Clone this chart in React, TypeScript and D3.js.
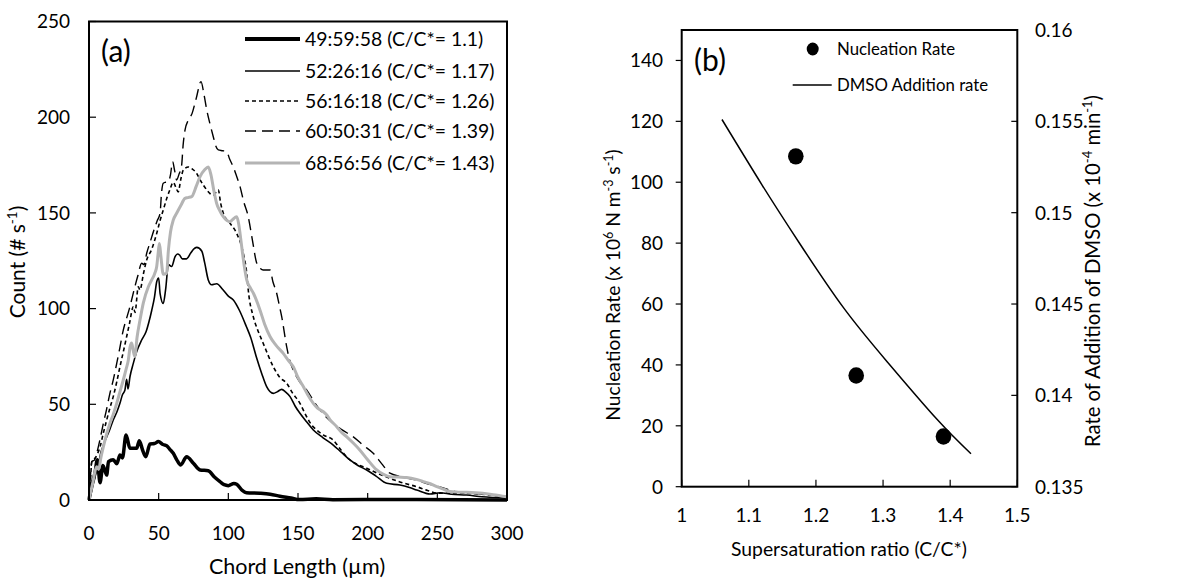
import React from "react";
import * as d3 from "d3";

// ---------- Panel (a): chord length distributions ----------
const xTicksA = [0, 50, 100, 150, 200, 250, 300];
const yTicksA = [0, 50, 100, 150, 200, 250];

const seriesNames = [
  "49:59:58 (C/C*= 1.1)",
  "52:26:16 (C/C*= 1.17)",
  "56:16:18 (C/C*= 1.26)",
  "60:50:31 (C/C*= 1.39)",
  "68:56:56 (C/C*= 1.43)",
];

const s1: [number, number][] = [
  [0,0],[2,8],[4.3,14],[6,21],[7.9,9],[10,18],[12.7,13],[14,20],[17.4,21],[20,19],[22.2,23.5],[24,22],[26.6,34],[29.4,27],[32,27],[34.2,27],[36.1,31],[38.5,26],[40.7,22.6],[43.8,29.3],[47,29.5],[49.8,30.5],[53,29],[55.7,28.4],[58,26.5],[60.5,24.4],[63,21],[65.8,18.3],[70.1,22.6],[74.9,19.2],[79.7,15.7],[85.6,15.3],[90,12],[94,9.6],[97,8],[100,7.5],[104,8.6],[106,8.2],[110,5],[113,3.8],[122.7,3.5],[130,3],[137,2],[145,1],[151,0.2],[163,0.6],[175,0.1],[220,0.3],[300,0],
];
const s2: [number, number][] = [
  [0,0],[1.4,3],[3,8],[4.3,12],[5.5,18],[6.5,14],[7.9,22.6],[10,28],[12.7,33],[15,37],[17.4,41.8],[20,46],[22.2,50.5],[24,55],[25.8,57.5],[27,63],[28,58],[29.4,64.4],[31.8,71.4],[34,77],[37.8,83.6],[41,88],[43,93],[45,99],[47,106],[48.6,114],[50,116],[51,108],[53.3,102.7],[55,110],[57,123],[59.3,122],[61.7,127],[63.5,128.5],[65,128],[67,126],[70,126],[73,129],[75,131],[77.3,132],[81,130],[83,124],[85.6,115],[88,112.5],[91.6,113],[96,110],[100,106.5],[103.6,104.5],[108,99],[113,90.5],[116,85],[120,75],[124,66],[127.5,59.2],[132.3,55.7],[135,56.5],[138.3,57.8],[141,56.5],[144.3,54],[148,49],[151.4,45.3],[156,41],[161,36.6],[168,32.5],[175.3,28.7],[181,25],[187.3,20.9],[193,18],[199.3,15.7],[206,12.5],[213.7,8.7],[223.2,7.8],[230,6.5],[235.2,5.2],[244.7,3.1],[252,3.8],[260,3],[271,2.6],[282,1.7],[300,1],
];
const s3: [number, number][] = [
  [0,0],[1,10],[2,20],[3,21],[4.5,22],[6,24],[8,28],[10.3,35],[12.7,41.8],[15,48],[17.4,54],[20,62],[22.2,69.6],[24.5,77],[27,85.3],[29,92],[31.8,101],[33,98],[35.4,111.4],[36.6,109.7],[39,118],[41.4,125.4],[45,131],[48.6,139.3],[51,146],[53.3,151.5],[56,158],[58,162],[60.5,166],[62.5,163],[64,161],[66,168],[67.7,172.4],[71.3,174],[74,173],[77.3,170.6],[80,167],[84.5,162],[87,160],[89.2,159.3],[92.8,162],[94.5,155],[96.4,149.8],[101.2,144.6],[106,139.3],[110.7,129],[113.2,118.5],[114.3,109.7],[117.9,95.8],[121,89],[125,81.9],[132.3,69.6],[137,64],[141.9,61],[146,56],[151.4,50.5],[156.2,43.5],[160,39],[163.4,36.6],[168,34],[175.3,31.3],[181,26],[187.3,20.9],[193,18.5],[199.3,16.6],[207,14],[216,11.3],[225,9],[235,7],[243,5],[251,3.5],[260,3.5],[271,3.5],[285,2.8],[300,1.7],
];
const s4: [number, number][] = [
  [0,0],[1,12],[2,20],[4,21],[5.5,24.4],[8,32],[10.3,40],[12.5,47],[15,55.7],[17.5,63],[19.9,71.4],[22,79],[24.6,88.8],[27,95],[29,100],[32.9,111.4],[35,117],[37.8,123.7],[39.5,123],[41.4,128.9],[44,135],[47.4,142.8],[49,146],[51,149.8],[52,160],[53.3,165.5],[55,166],[57,166.3],[58.5,170],[60,176.7],[61.5,172],[62.9,167.2],[64.5,170],[66.5,175],[67.5,185],[68.9,193.3],[71.3,198.5],[74,202],[77,210],[80.4,218.6],[82.5,212],[84.5,203.8],[87,196],[89.2,189.8],[91,185],[92.8,182.9],[96,182.5],[98.8,182],[101,178],[103.6,174],[106,169],[108.4,163.7],[111,156],[114.3,148],[117,137],[120.4,123.7],[123,121],[125,120.2],[129.9,120.2],[132,114],[134.7,108],[136.5,102],[138.3,95.8],[141.9,80],[144,73],[146.6,68],[151,62],[156.2,57.5],[161,52],[165.8,47],[170,43.5],[175.3,40],[182,36.5],[189.7,33],[197,28.5],[204,24.4],[210,19],[216,14],[225,12],[235,10.4],[243,8.5],[251,7],[263,4.4],[275,3.5],[290,2.5],[300,1.7],
];
const s5: [number, number][] = [
  [0,0],[1.5,5],[3,10],[4,14],[5.5,17.4],[7,16],[8.5,22],[10.3,27.8],[12.5,34],[15,40],[17.5,45],[19.9,50.5],[22,56],[24.6,62.7],[26.5,68],[28.2,73],[29.5,80],[30.6,82],[31.5,79],[32.9,75],[34.5,85],[36.6,94],[39,103],[42.6,111.4],[45,115],[47,118],[48.6,122],[49.5,128],[50.5,134],[51.5,128],[53.3,118],[55.7,118.4],[57,130.6],[58.5,140],[60.5,146.3],[62.9,149.8],[66,154],[68.9,157.6],[71,158],[73.7,158.5],[77,164],[79.7,169],[83,172.5],[85.6,174],[87.5,170],[89.5,162],[91.6,155],[94,151],[96.4,148],[99,146],[101.2,145.4],[103,146.5],[106,148],[107.5,144],[108.4,139.3],[110,130],[111.5,122],[113.2,115],[116,110.5],[118,108],[122.7,99.3],[126,92],[130,85.3],[134,81],[139.4,76.6],[143,73],[146.6,69.6],[150,64],[153.9,59.2],[157,55],[161,50.5],[164,48],[168.2,46.1],[170.5,44.5],[172.9,42],[177.8,38.3],[181,35.5],[185,33],[190,29.5],[194.5,26],[200,21],[206.5,15.7],[211,13.5],[216,12.2],[222,12],[228,11.8],[235,10.8],[240,9.6],[245,8.5],[249.6,7],[255,5.5],[259,4.4],[265,4.1],[271,4],[282.5,3.5],[290,2.8],[300,1.7],
];

// ---------- Panel (b): nucleation rate and DMSO addition rate ----------
const xTicksB = [1, 1.1, 1.2, 1.3, 1.4, 1.5];
const yTicksB = [0, 20, 40, 60, 80, 100, 120, 140];
const y2TicksB = [0.135, 0.14, 0.145, 0.15, 0.155, 0.16];
const supersat = [1.17, 1.26, 1.39];
const nucleationRate = [108.5, 36.5, 16.5];
const dmsoX = [1.06, 1.12, 1.176, 1.241, 1.307, 1.38, 1.431];
const dmsoRate = [0.1551, 0.1515, 0.1483, 0.1448, 0.1418, 0.1387, 0.1368];

const FONT = "Lato, 'Carlito', 'Noto Sans', sans-serif";
const FS = 19;
const GREY = "#b4b4b4";

const styles = [
  { stroke: "#000", width: 3.5, dash: undefined as string | undefined },
  { stroke: "#000", width: 1.6, dash: undefined },
  { stroke: "#000", width: 1.6, dash: "4,3" },
  { stroke: "#000", width: 1.4, dash: "11,6" },
  { stroke: GREY, width: 3, dash: undefined },
];

export default function App() {
  // Panel A scales
  const xA = d3.scaleLinear().domain([0, 300]).range([89, 507]);
  const yA = d3.scaleLinear().domain([0, 250]).range([500, 21.5]);
  const lineA = d3
    .line<[number, number]>()
    .x((d) => xA(d[0]))
    .y((d) => yA(d[1]))
    .curve(d3.curveMonotoneX);
  const seriesA = [s1, s2, s3, s4, s5];

  // Panel B scales
  const xB = d3.scaleLinear().domain([1, 1.5]).range([681.7, 1017.3]);
  const yB = d3.scaleLinear().domain([0, 150]).range([486.7, 30]);
  const yB2 = d3.scaleLinear().domain([0.135, 0.16]).range([486.7, 30]);
  const lineB = d3
    .line<number>()
    .x((_, i) => xB(dmsoX[i]))
    .y((d) => yB2(d))
    .curve(d3.curveNatural);

  const legendRowsY = [39, 71, 101, 131, 163];

  return (
    <svg
      width={1181}
      height={581}
      style={{ position: "absolute", left: 0, top: 0, background: "#fff" }}
      fontFamily={FONT}
    >
      <rect x={0} y={0} width={1181} height={581} fill="#fff" />

      {/* ================= Panel A ================= */}
      {seriesA.map((s, i) => (
        <path
          key={i}
          d={lineA(s) || ""}
          fill="none"
          stroke={styles[i].stroke}
          strokeWidth={styles[i].width}
          strokeDasharray={styles[i].dash}
          strokeLinejoin="round"
        />
      ))}
      <rect
        x={xA(0)}
        y={yA(250)}
        width={xA(300) - xA(0)}
        height={yA(0) - yA(250)}
        fill="none"
        stroke="#000"
        strokeWidth={2}
      />
      {yTicksA.map((t) => (
        <g key={"ya" + t}>
          <line x1={xA(0)} x2={xA(0) + 7} y1={yA(t)} y2={yA(t)} stroke="#000" strokeWidth={1.2} />
          <text x={70} y={yA(t)} dy="0.36em" textAnchor="end" fontSize={FS}>
            {t}
          </text>
        </g>
      ))}
      {xTicksA.map((t) => (
        <g key={"xa" + t}>
          <line x1={xA(t)} x2={xA(t)} y1={yA(0)} y2={yA(0) - 7} stroke="#000" strokeWidth={1.2} />
          <text x={xA(t)} y={540} textAnchor="middle" fontSize={FS}>
            {t}
          </text>
        </g>
      ))}
      <text x={297} y={574} textAnchor="middle" fontSize={21.5}>
        Chord Length (µm)
      </text>
      <text transform="translate(25,262) rotate(-90)" textAnchor="middle" fontSize={21}>
        Count (# s
        <tspan dy={-8} fontSize={13.5}>-1</tspan>
        <tspan dy={8}>)</tspan>
      </text>
      <text x={101} y={62} fontSize={30}>
        (a)
      </text>
      {seriesNames.map((n, i) => (
        <g key={"lg" + i}>
          <line
            x1={245}
            x2={300}
            y1={legendRowsY[i]}
            y2={legendRowsY[i]}
            stroke={styles[i].stroke}
            strokeWidth={i === 0 ? 4 : styles[i].width}
            strokeDasharray={styles[i].dash}
          />
          <text x={305} y={legendRowsY[i]} dy="0.36em" fontSize={19.4}>
            {n}
          </text>
        </g>
      ))}

      {/* ================= Panel B ================= */}
      <path d={lineB(dmsoRate) || ""} fill="none" stroke="#000" strokeWidth={1.5} />
      {supersat.map((s, i) => (
        <ellipse key={"pt" + i} cx={xB(s)} cy={yB(nucleationRate[i])} rx={7.8} ry={8.2} fill="#000" />
      ))}
      <rect
        x={xB(1)}
        y={yB(150)}
        width={xB(1.5) - xB(1)}
        height={yB(0) - yB(150)}
        fill="none"
        stroke="#000"
        strokeWidth={2}
      />
      {yTicksB.map((t) => (
        <g key={"yb" + t}>
          <line x1={xB(1) - 6} x2={xB(1)} y1={yB(t)} y2={yB(t)} stroke="#000" strokeWidth={1.2} />
          <text x={663} y={yB(t)} dy="0.36em" textAnchor="end" fontSize={FS}>
            {t}
          </text>
        </g>
      ))}
      {y2TicksB.map((t) => (
        <g key={"yb2" + t}>
          <line x1={xB(1.5) - 6} x2={xB(1.5)} y1={yB2(t)} y2={yB2(t)} stroke="#000" strokeWidth={1.2} />
          <text x={1035} y={yB2(t)} dy="0.36em" textAnchor="start" fontSize={FS}>
            {String(t)}
          </text>
        </g>
      ))}
      {xTicksB.map((t) => (
        <g key={"xb" + t}>
          <line x1={xB(t)} x2={xB(t)} y1={yB(0)} y2={yB(0) - 7} stroke="#000" strokeWidth={1.2} />
          <text x={xB(t)} y={522} textAnchor="middle" fontSize={FS}>
            {String(t)}
          </text>
        </g>
      ))}
      <text x={849} y={556} textAnchor="middle" fontSize={19.3}>
        Supersaturation ratio (C/C*)
      </text>
      <text transform="translate(620,285) rotate(-90)" textAnchor="middle" fontSize={19.2}>
        Nucleation Rate (x 10
        <tspan dy={-7} fontSize={12.5}>6</tspan>
        <tspan dy={7}> N m</tspan>
        <tspan dy={-7} fontSize={12.5}>-3</tspan>
        <tspan dy={7}> s</tspan>
        <tspan dy={-7} fontSize={12.5}>-1</tspan>
        <tspan dy={7}>)</tspan>
      </text>
      <text transform="translate(1100,271) rotate(-90)" textAnchor="middle" fontSize={20.3}>
        Rate of Addition of DMSO (x 10
        <tspan dy={-8} fontSize={13}>-4</tspan>
        <tspan dy={8}> min</tspan>
        <tspan dy={-8} fontSize={13}>-1</tspan>
        <tspan dy={8}>)</tspan>
      </text>
      <text x={694} y={71} fontSize={30}>
        (b)
      </text>
      <ellipse cx={812.7} cy={49} rx={6} ry={6.5} fill="#000" />
      <text x={837} y={49} dy="0.36em" fontSize={16.8}>
        Nucleation Rate
      </text>
      <line x1={792.7} x2={831.7} y1={85} y2={85} stroke="#000" strokeWidth={1.5} />
      <text x={837} y={85} dy="0.36em" fontSize={16.8}>
        DMSO Addition rate
      </text>
    </svg>
  );
}
